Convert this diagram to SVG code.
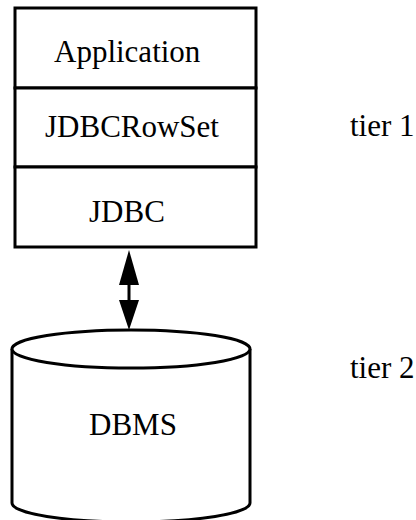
<svg xmlns="http://www.w3.org/2000/svg" width="416" height="520" viewBox="0 0 416 520">
<style>
.s{fill:#fff;stroke:#000;stroke-width:3}
.t{font-family:"Liberation Serif","Times New Roman",serif;font-size:31px;fill:#000}
.h{fill:#000}
</style>
<rect width="416" height="520" fill="#fff"/>
<g id="app">
<rect class="s" x="15" y="8" width="241" height="80"/>
<text class="t" x="54" y="62">Application</text>
</g>
<g id="rowset">
<rect class="s" x="15" y="88" width="241" height="79"/>
<text class="t" x="45" y="137">JDBCRowSet</text>
</g>
<g id="jdbc">
<rect class="s" x="15" y="167" width="241" height="80"/>
<text class="t" x="89" y="222">JDBC</text>
</g>
<g id="dbms">
<path class="s" d="M12,349 L12,503 A119,19 0 0 0 250,503 L250,349"/>
<ellipse class="s" cx="131" cy="349" rx="119" ry="19"/>
<text class="t" x="89" y="435">DBMS</text>
</g>
<g id="tiers">
<text class="t" x="350" y="136">tier 1</text>
<text class="t" x="350" y="378">tier 2</text>
</g>
<g id="connectors">
<line x1="129" y1="280" x2="129" y2="305" stroke="#000" stroke-width="3"/>
<path class="h" d="M129,250 L139,285 L119,285 Z"/>
<path class="h" d="M129,330 L139,300 L119,300 Z"/>
</g>
</svg>
